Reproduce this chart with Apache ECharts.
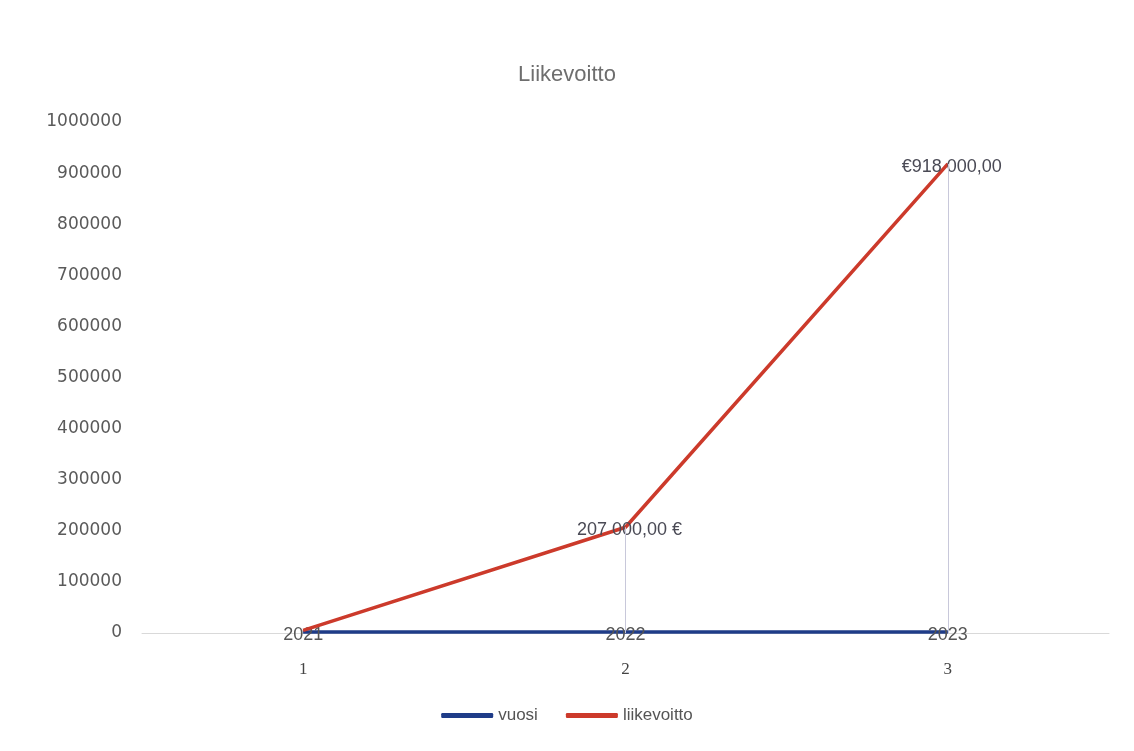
<!DOCTYPE html>
<html>
<head>
<meta charset="utf-8">
<script src="https://cdn.jsdelivr.net/npm/echarts@6/dist/echarts.min.js"></script>
<style>
html,body{margin:0;padding:0;background:#fff;}
#chart{width:1134px;height:751px;}
</style>
</head>
<body>
<div id="chart"></div>
<script>
const titleText = 'Liikevoitto';
const categories = ['1', '2', '3'];
const vuosiValues = [2021, 2022, 2023];
const liikevoittoValues = [5000, 207000, 918000];
const liikevoittoLabels = ['', '207 000,00 €', '€918 000,00'];
const seriesNames = ['vuosi', 'liikevoitto'];
const yMin = 0, yMax = 1000000, yInterval = 100000;

const dropLines = [];
for (let i = 1; i < categories.length; i++) {
  dropLines.push([{ coord: [categories[i], 0] }, { coord: [categories[i], liikevoittoValues[i]] }]);
}

const chart = echarts.init(document.getElementById('chart'));
chart.setOption({
  backgroundColor: '#ffffff',
  animation: false,
  title: {
    text: titleText,
    left: 'center',
    top: 59,
    textStyle: { fontFamily: 'Liberation Sans', fontSize: 22, fontWeight: 'normal', color: '#6e6e6e' }
  },
  legend: {
    bottom: 22,
    left: 'center',
    itemWidth: 52,
    itemHeight: 5,
    itemGap: 28,
    icon: 'roundRect',
    textStyle: { fontFamily: 'Liberation Sans', fontSize: 17, color: '#555' },
    data: seriesNames
  },
  grid: { left: 142, right: 25, top: 122, bottom: 118 },
  xAxis: {
    type: 'category',
    data: categories,
    boundaryGap: true,
    axisLine: { lineStyle: { color: '#d9d9d9', width: 1 } },
    axisTick: { show: false },
    axisLabel: { fontFamily: 'Liberation Serif', fontSize: 17, color: '#444', margin: 28 }
  },
  yAxis: {
    type: 'value',
    min: yMin, max: yMax, interval: yInterval,
    axisLine: { show: false },
    axisTick: { show: false },
    splitLine: { show: false },
    axisLabel: {
      fontFamily: 'DejaVu Sans', fontSize: 17, color: '#5a5a5a', margin: 20,
      formatter: v => String(v)
    }
  },
  series: [
    {
      name: seriesNames[0],
      type: 'line',
      data: vuosiValues,
      symbol: 'circle',
      symbolSize: 1,
      lineStyle: { color: '#1f3c88', width: 3.5 },
      itemStyle: { color: '#1f3c88' },
      label: {
        show: true, position: 'inside', offset: [0, 3],
        fontFamily: 'Liberation Sans', fontSize: 18, color: '#555'
      },
      z: 3
    },
    {
      name: seriesNames[1],
      type: 'line',
      data: liikevoittoValues,
      symbol: 'circle',
      symbolSize: 1,
      lineStyle: { color: '#cc3a2b', width: 3.5 },
      itemStyle: { color: '#cc3a2b' },
      label: {
        show: true, position: 'inside', offset: [4, 3],
        fontFamily: 'Liberation Sans', fontSize: 18, color: '#4a4a55',
        formatter: p => liikevoittoLabels[p.dataIndex]
      },
      markLine: {
        silent: true,
        symbol: 'none',
        label: { show: false },
        lineStyle: { color: '#c8c8da', width: 1, type: 'solid' },
        data: dropLines
      },
      z: 4
    }
  ]
});
</script>
</body>
</html>
